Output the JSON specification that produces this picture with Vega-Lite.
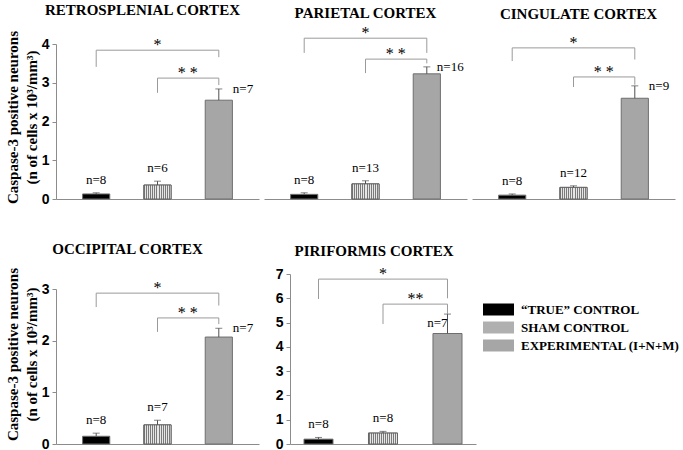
{
"$schema":"https://vega.github.io/schema/vega-lite/v6.json",
"padding":{"left":5,"top":3,"right":5,"bottom":5},
"datasets":{
"bars":[
{"cortex":"RETROSPLENIAL CORTEX","group":"“TRUE” CONTROL","mean":0.13,"upper":0.16,"n":"n=8"},
{"cortex":"RETROSPLENIAL CORTEX","group":"SHAM CONTROL","mean":0.36,"upper":0.46,"n":"n=6"},
{"cortex":"RETROSPLENIAL CORTEX","group":"EXPERIMENTAL (I+N+M)","mean":2.55,"upper":2.84,"n":"n=7"},
{"cortex":"PARIETAL CORTEX","group":"“TRUE” CONTROL","mean":0.12,"upper":0.16,"n":"n=8"},
{"cortex":"PARIETAL CORTEX","group":"SHAM CONTROL","mean":0.39,"upper":0.47,"n":"n=13"},
{"cortex":"PARIETAL CORTEX","group":"EXPERIMENTAL (I+N+M)","mean":3.23,"upper":3.41,"n":"n=16"},
{"cortex":"CINGULATE CORTEX","group":"“TRUE” CONTROL","mean":0.1,"upper":0.13,"n":"n=8"},
{"cortex":"CINGULATE CORTEX","group":"SHAM CONTROL","mean":0.3,"upper":0.34,"n":"n=12"},
{"cortex":"CINGULATE CORTEX","group":"EXPERIMENTAL (I+N+M)","mean":2.6,"upper":2.92,"n":"n=9"},
{"cortex":"OCCIPITAL CORTEX","group":"“TRUE” CONTROL","mean":0.15,"upper":0.21,"n":"n=8"},
{"cortex":"OCCIPITAL CORTEX","group":"SHAM CONTROL","mean":0.37,"upper":0.46,"n":"n=7"},
{"cortex":"OCCIPITAL CORTEX","group":"EXPERIMENTAL (I+N+M)","mean":2.07,"upper":2.24,"n":"n=7"},
{"cortex":"PIRIFORMIS CORTEX","group":"“TRUE” CONTROL","mean":0.2,"upper":0.27,"n":"n=8"},
{"cortex":"PIRIFORMIS CORTEX","group":"SHAM CONTROL","mean":0.45,"upper":0.52,"n":"n=8"},
{"cortex":"PIRIFORMIS CORTEX","group":"EXPERIMENTAL (I+N+M)","mean":4.55,"upper":5.35,"n":"n=7"}
],
"brackets":[
{"cortex":"RETROSPLENIAL CORTEX","from":"“TRUE” CONTROL","to":"EXPERIMENTAL (I+N+M)","y":3.84,"fromLow":3.41,"toLow":3.66,"stars":"*"},
{"cortex":"RETROSPLENIAL CORTEX","from":"SHAM CONTROL","to":"EXPERIMENTAL (I+N+M)","y":3.12,"fromLow":2.74,"toLow":2.94,"stars":"* *"},
{"cortex":"PARIETAL CORTEX","from":"“TRUE” CONTROL","to":"EXPERIMENTAL (I+N+M)","y":4.15,"fromLow":3.77,"toLow":3.77,"stars":"*"},
{"cortex":"PARIETAL CORTEX","from":"SHAM CONTROL","to":"EXPERIMENTAL (I+N+M)","y":3.61,"fromLow":3.25,"toLow":3.5,"stars":"* *"},
{"cortex":"CINGULATE CORTEX","from":"“TRUE” CONTROL","to":"EXPERIMENTAL (I+N+M)","y":3.9,"fromLow":3.56,"toLow":3.6,"stars":"*"},
{"cortex":"CINGULATE CORTEX","from":"SHAM CONTROL","to":"EXPERIMENTAL (I+N+M)","y":3.15,"fromLow":2.89,"toLow":2.95,"stars":"* *"},
{"cortex":"OCCIPITAL CORTEX","from":"“TRUE” CONTROL","to":"EXPERIMENTAL (I+N+M)","y":2.92,"fromLow":2.65,"toLow":2.68,"stars":"*"},
{"cortex":"OCCIPITAL CORTEX","from":"SHAM CONTROL","to":"EXPERIMENTAL (I+N+M)","y":2.44,"fromLow":2.17,"toLow":2.32,"stars":"* *"},
{"cortex":"PIRIFORMIS CORTEX","from":"“TRUE” CONTROL","to":"EXPERIMENTAL (I+N+M)","y":6.79,"fromLow":5.97,"toLow":6.0,"stars":"*"},
{"cortex":"PIRIFORMIS CORTEX","from":"SHAM CONTROL","to":"EXPERIMENTAL (I+N+M)","y":5.76,"fromLow":4.94,"toLow":5.35,"stars":"**"}
]
},
"vconcat":[
{"hconcat":[
{
"title":{"text":"RETROSPLENIAL CORTEX","offset":12,"frame":"group","dx":-15},
"width":203,"height":155,
"layer":[
{"data":{"name":"bars"},"transform":[{"filter":"datum.cortex==='RETROSPLENIAL CORTEX'"}],
"encoding":{
"x":{"field":"group","type":"nominal","title":null,"scale":{"domain":["“TRUE” CONTROL","SHAM CONTROL","EXPERIMENTAL (I+N+M)"],"paddingInner":0.557,"paddingOuter":0.434},"axis":{"labels":false,"ticks":false}},
"y":{"field":"mean","type":"quantitative","title":["Caspase-3 positive neurons","(n of cells x 10³/mm³)"],"scale":{"domain":[0,4],"nice":false},"axis":{"values":[0,1,2,3,4],"format":"d","titleY":73}}},
"layer":[
{"mark":{"type":"bar","stroke":"#6e6e6e","strokeWidth":1},"encoding":{"color":{"field":"group","type":"nominal","scale":{"domain":["“TRUE” CONTROL","SHAM CONTROL","EXPERIMENTAL (I+N+M)"],"range":["#000000","#b0b0b0","#a6a6a6"]}}}},
{"transform":[{"filter":"datum.group==='SHAM CONTROL'"}],"mark":{"type":"bar","stroke":"#666666","strokeWidth":1,"fill":{"gradient":"linear","x1":0,"y1":0,"x2":1,"y2":0,"stops":[{"offset":0,"color":"#7a7a7a"},{"offset":0.0357,"color":"#7a7a7a"},{"offset":0.0357,"color":"#e6e6e6"},{"offset":0.0714,"color":"#e6e6e6"},{"offset":0.0714,"color":"#7a7a7a"},{"offset":0.1071,"color":"#7a7a7a"},{"offset":0.1071,"color":"#e6e6e6"},{"offset":0.1429,"color":"#e6e6e6"},{"offset":0.1429,"color":"#7a7a7a"},{"offset":0.1786,"color":"#7a7a7a"},{"offset":0.1786,"color":"#e6e6e6"},{"offset":0.2143,"color":"#e6e6e6"},{"offset":0.2143,"color":"#7a7a7a"},{"offset":0.25,"color":"#7a7a7a"},{"offset":0.25,"color":"#e6e6e6"},{"offset":0.2857,"color":"#e6e6e6"},{"offset":0.2857,"color":"#7a7a7a"},{"offset":0.3214,"color":"#7a7a7a"},{"offset":0.3214,"color":"#e6e6e6"},{"offset":0.3571,"color":"#e6e6e6"},{"offset":0.3571,"color":"#7a7a7a"},{"offset":0.3929,"color":"#7a7a7a"},{"offset":0.3929,"color":"#e6e6e6"},{"offset":0.4286,"color":"#e6e6e6"},{"offset":0.4286,"color":"#7a7a7a"},{"offset":0.4643,"color":"#7a7a7a"},{"offset":0.4643,"color":"#e6e6e6"},{"offset":0.5,"color":"#e6e6e6"},{"offset":0.5,"color":"#7a7a7a"},{"offset":0.5357,"color":"#7a7a7a"},{"offset":0.5357,"color":"#e6e6e6"},{"offset":0.5714,"color":"#e6e6e6"},{"offset":0.5714,"color":"#7a7a7a"},{"offset":0.6071,"color":"#7a7a7a"},{"offset":0.6071,"color":"#e6e6e6"},{"offset":0.6429,"color":"#e6e6e6"},{"offset":0.6429,"color":"#7a7a7a"},{"offset":0.6786,"color":"#7a7a7a"},{"offset":0.6786,"color":"#e6e6e6"},{"offset":0.7143,"color":"#e6e6e6"},{"offset":0.7143,"color":"#7a7a7a"},{"offset":0.75,"color":"#7a7a7a"},{"offset":0.75,"color":"#e6e6e6"},{"offset":0.7857,"color":"#e6e6e6"},{"offset":0.7857,"color":"#7a7a7a"},{"offset":0.8214,"color":"#7a7a7a"},{"offset":0.8214,"color":"#e6e6e6"},{"offset":0.8571,"color":"#e6e6e6"},{"offset":0.8571,"color":"#7a7a7a"},{"offset":0.8929,"color":"#7a7a7a"},{"offset":0.8929,"color":"#e6e6e6"},{"offset":0.9286,"color":"#e6e6e6"},{"offset":0.9286,"color":"#7a7a7a"},{"offset":0.9643,"color":"#7a7a7a"},{"offset":0.9643,"color":"#e6e6e6"},{"offset":1,"color":"#e6e6e6"}]}}},
{"mark":{"type":"rule","color":"#505050"},"encoding":{"y2":{"field":"upper"}}},
{"mark":{"type":"tick","size":7,"thickness":1,"color":"#505050","orient":"horizontal"},"encoding":{"y":{"field":"upper","type":"quantitative","title":["Caspase-3 positive neurons","(n of cells x 10³/mm³)"],"scale":{"domain":[0,4],"nice":false},"axis":{"values":[0,1,2,3,4],"format":"d"}}}},
{"transform":[{"filter":"datum.group!=='EXPERIMENTAL (I+N+M)'"}],"mark":{"type":"text","dy":-13,"font":"Liberation Serif","fontSize":13},"encoding":{"y":{"field":"upper","type":"quantitative","title":["Caspase-3 positive neurons","(n of cells x 10³/mm³)"],"scale":{"domain":[0,4],"nice":false},"axis":{"values":[0,1,2,3,4],"format":"d"}},"text":{"field":"n"}}},
{"transform":[{"filter":"datum.group==='EXPERIMENTAL (I+N+M)'"}],"mark":{"type":"text","align":"left","dx":14,"font":"Liberation Serif","fontSize":13},"encoding":{"y":{"field":"upper","type":"quantitative","title":["Caspase-3 positive neurons","(n of cells x 10³/mm³)"],"scale":{"domain":[0,4],"nice":false},"axis":{"values":[0,1,2,3,4],"format":"d"}},"text":{"field":"n"}}}
]},
{"data":{"name":"brackets"},"transform":[{"filter":"datum.cortex==='RETROSPLENIAL CORTEX'"}],
"layer":[
{"mark":{"type":"rule","color":"#9a9a9a"},"encoding":{"x":{"field":"from","type":"nominal","title":null},"x2":{"field":"to"},"y":{"field":"y","type":"quantitative","title":["Caspase-3 positive neurons","(n of cells x 10³/mm³)"],"scale":{"domain":[0,4],"nice":false},"axis":{"values":[0,1,2,3,4],"format":"d"}}}},
{"mark":{"type":"rule","color":"#9a9a9a"},"encoding":{"x":{"field":"from","type":"nominal","title":null},"y":{"field":"fromLow","type":"quantitative","title":["Caspase-3 positive neurons","(n of cells x 10³/mm³)"],"scale":{"domain":[0,4],"nice":false},"axis":{"values":[0,1,2,3,4],"format":"d"}},"y2":{"field":"y"}}},
{"mark":{"type":"rule","color":"#9a9a9a"},"encoding":{"x":{"field":"to","type":"nominal","title":null},"y":{"field":"toLow","type":"quantitative","title":["Caspase-3 positive neurons","(n of cells x 10³/mm³)"],"scale":{"domain":[0,4],"nice":false},"axis":{"values":[0,1,2,3,4],"format":"d"}},"y2":{"field":"y"}}},
{"transform":[{"filter":"datum.stars==='*'"}],"mark":{"type":"text","font":"Liberation Serif","fontSize":16,"baseline":"alphabetic"},"encoding":{"x":{"datum":"SHAM CONTROL","type":"nominal","title":null},"y":{"field":"y","type":"quantitative","title":["Caspase-3 positive neurons","(n of cells x 10³/mm³)"],"scale":{"domain":[0,4],"nice":false},"axis":{"values":[0,1,2,3,4],"format":"d"}},"text":{"field":"stars"}}},
{"transform":[{"filter":"datum.stars!=='*'"}],"mark":{"type":"text","font":"Liberation Serif","fontSize":16,"baseline":"alphabetic","dx":-31},"encoding":{"x":{"datum":"EXPERIMENTAL (I+N+M)","type":"nominal","title":null},"y":{"field":"y","type":"quantitative","title":["Caspase-3 positive neurons","(n of cells x 10³/mm³)"],"scale":{"domain":[0,4],"nice":false},"axis":{"values":[0,1,2,3,4],"format":"d"}},"text":{"field":"stars"}}}
]}
]
},
{
"title":{"text":"PARIETAL CORTEX","offset":4,"frame":"group"},
"width":203,"height":155,
"layer":[
{"data":{"name":"bars"},"transform":[{"filter":"datum.cortex==='PARIETAL CORTEX'"}],
"encoding":{
"x":{"field":"group","type":"nominal","title":null,"scale":{"domain":["“TRUE” CONTROL","SHAM CONTROL","EXPERIMENTAL (I+N+M)"],"paddingInner":0.557,"paddingOuter":0.434},"axis":{"labels":false,"ticks":false}},
"y":{"field":"mean","type":"quantitative","scale":{"domain":[0,4],"nice":false},"axis":null}},
"layer":[
{"mark":{"type":"bar","stroke":"#6e6e6e","strokeWidth":1},"encoding":{"color":{"field":"group","type":"nominal","scale":{"domain":["“TRUE” CONTROL","SHAM CONTROL","EXPERIMENTAL (I+N+M)"],"range":["#000000","#b0b0b0","#a6a6a6"]}}}},
{"transform":[{"filter":"datum.group==='SHAM CONTROL'"}],"mark":{"type":"bar","stroke":"#666666","strokeWidth":1,"fill":{"gradient":"linear","x1":0,"y1":0,"x2":1,"y2":0,"stops":[{"offset":0,"color":"#7a7a7a"},{"offset":0.0357,"color":"#7a7a7a"},{"offset":0.0357,"color":"#e6e6e6"},{"offset":0.0714,"color":"#e6e6e6"},{"offset":0.0714,"color":"#7a7a7a"},{"offset":0.1071,"color":"#7a7a7a"},{"offset":0.1071,"color":"#e6e6e6"},{"offset":0.1429,"color":"#e6e6e6"},{"offset":0.1429,"color":"#7a7a7a"},{"offset":0.1786,"color":"#7a7a7a"},{"offset":0.1786,"color":"#e6e6e6"},{"offset":0.2143,"color":"#e6e6e6"},{"offset":0.2143,"color":"#7a7a7a"},{"offset":0.25,"color":"#7a7a7a"},{"offset":0.25,"color":"#e6e6e6"},{"offset":0.2857,"color":"#e6e6e6"},{"offset":0.2857,"color":"#7a7a7a"},{"offset":0.3214,"color":"#7a7a7a"},{"offset":0.3214,"color":"#e6e6e6"},{"offset":0.3571,"color":"#e6e6e6"},{"offset":0.3571,"color":"#7a7a7a"},{"offset":0.3929,"color":"#7a7a7a"},{"offset":0.3929,"color":"#e6e6e6"},{"offset":0.4286,"color":"#e6e6e6"},{"offset":0.4286,"color":"#7a7a7a"},{"offset":0.4643,"color":"#7a7a7a"},{"offset":0.4643,"color":"#e6e6e6"},{"offset":0.5,"color":"#e6e6e6"},{"offset":0.5,"color":"#7a7a7a"},{"offset":0.5357,"color":"#7a7a7a"},{"offset":0.5357,"color":"#e6e6e6"},{"offset":0.5714,"color":"#e6e6e6"},{"offset":0.5714,"color":"#7a7a7a"},{"offset":0.6071,"color":"#7a7a7a"},{"offset":0.6071,"color":"#e6e6e6"},{"offset":0.6429,"color":"#e6e6e6"},{"offset":0.6429,"color":"#7a7a7a"},{"offset":0.6786,"color":"#7a7a7a"},{"offset":0.6786,"color":"#e6e6e6"},{"offset":0.7143,"color":"#e6e6e6"},{"offset":0.7143,"color":"#7a7a7a"},{"offset":0.75,"color":"#7a7a7a"},{"offset":0.75,"color":"#e6e6e6"},{"offset":0.7857,"color":"#e6e6e6"},{"offset":0.7857,"color":"#7a7a7a"},{"offset":0.8214,"color":"#7a7a7a"},{"offset":0.8214,"color":"#e6e6e6"},{"offset":0.8571,"color":"#e6e6e6"},{"offset":0.8571,"color":"#7a7a7a"},{"offset":0.8929,"color":"#7a7a7a"},{"offset":0.8929,"color":"#e6e6e6"},{"offset":0.9286,"color":"#e6e6e6"},{"offset":0.9286,"color":"#7a7a7a"},{"offset":0.9643,"color":"#7a7a7a"},{"offset":0.9643,"color":"#e6e6e6"},{"offset":1,"color":"#e6e6e6"}]}}},
{"mark":{"type":"rule","color":"#505050"},"encoding":{"y2":{"field":"upper"}}},
{"mark":{"type":"tick","size":7,"thickness":1,"color":"#505050","orient":"horizontal"},"encoding":{"y":{"field":"upper","type":"quantitative","scale":{"domain":[0,4],"nice":false},"axis":null}}},
{"transform":[{"filter":"datum.group!=='EXPERIMENTAL (I+N+M)'"}],"mark":{"type":"text","dy":-13,"font":"Liberation Serif","fontSize":13},"encoding":{"y":{"field":"upper","type":"quantitative","scale":{"domain":[0,4],"nice":false},"axis":null},"text":{"field":"n"}}},
{"transform":[{"filter":"datum.group==='EXPERIMENTAL (I+N+M)'"}],"mark":{"type":"text","align":"left","dx":10,"font":"Liberation Serif","fontSize":13},"encoding":{"y":{"field":"upper","type":"quantitative","scale":{"domain":[0,4],"nice":false},"axis":null},"text":{"field":"n"}}}
]},
{"data":{"name":"brackets"},"transform":[{"filter":"datum.cortex==='PARIETAL CORTEX'"}],
"layer":[
{"mark":{"type":"rule","color":"#9a9a9a"},"encoding":{"x":{"field":"from","type":"nominal","title":null},"x2":{"field":"to"},"y":{"field":"y","type":"quantitative","scale":{"domain":[0,4],"nice":false},"axis":null}}},
{"mark":{"type":"rule","color":"#9a9a9a"},"encoding":{"x":{"field":"from","type":"nominal","title":null},"y":{"field":"fromLow","type":"quantitative","scale":{"domain":[0,4],"nice":false},"axis":null},"y2":{"field":"y"}}},
{"mark":{"type":"rule","color":"#9a9a9a"},"encoding":{"x":{"field":"to","type":"nominal","title":null},"y":{"field":"toLow","type":"quantitative","scale":{"domain":[0,4],"nice":false},"axis":null},"y2":{"field":"y"}}},
{"transform":[{"filter":"datum.stars==='*'"}],"mark":{"type":"text","font":"Liberation Serif","fontSize":16,"baseline":"alphabetic"},"encoding":{"x":{"datum":"SHAM CONTROL","type":"nominal","title":null},"y":{"field":"y","type":"quantitative","scale":{"domain":[0,4],"nice":false},"axis":null},"text":{"field":"stars"}}},
{"transform":[{"filter":"datum.stars!=='*'"}],"mark":{"type":"text","font":"Liberation Serif","fontSize":16,"baseline":"alphabetic","dx":-31},"encoding":{"x":{"datum":"EXPERIMENTAL (I+N+M)","type":"nominal","title":null},"y":{"field":"y","type":"quantitative","scale":{"domain":[0,4],"nice":false},"axis":null},"text":{"field":"stars"}}}
]}
]
},
{
"title":{"text":"CINGULATE CORTEX","offset":13,"frame":"group","dx":5},
"width":203,"height":155,
"layer":[
{"data":{"name":"bars"},"transform":[{"filter":"datum.cortex==='CINGULATE CORTEX'"}],
"encoding":{
"x":{"field":"group","type":"nominal","title":null,"scale":{"domain":["“TRUE” CONTROL","SHAM CONTROL","EXPERIMENTAL (I+N+M)"],"paddingInner":0.557,"paddingOuter":0.434},"axis":{"labels":false,"ticks":false}},
"y":{"field":"mean","type":"quantitative","scale":{"domain":[0,4],"nice":false},"axis":null}},
"layer":[
{"mark":{"type":"bar","stroke":"#6e6e6e","strokeWidth":1},"encoding":{"color":{"field":"group","type":"nominal","scale":{"domain":["“TRUE” CONTROL","SHAM CONTROL","EXPERIMENTAL (I+N+M)"],"range":["#000000","#b0b0b0","#a6a6a6"]}}}},
{"transform":[{"filter":"datum.group==='SHAM CONTROL'"}],"mark":{"type":"bar","stroke":"#666666","strokeWidth":1,"fill":{"gradient":"linear","x1":0,"y1":0,"x2":1,"y2":0,"stops":[{"offset":0,"color":"#7a7a7a"},{"offset":0.0357,"color":"#7a7a7a"},{"offset":0.0357,"color":"#e6e6e6"},{"offset":0.0714,"color":"#e6e6e6"},{"offset":0.0714,"color":"#7a7a7a"},{"offset":0.1071,"color":"#7a7a7a"},{"offset":0.1071,"color":"#e6e6e6"},{"offset":0.1429,"color":"#e6e6e6"},{"offset":0.1429,"color":"#7a7a7a"},{"offset":0.1786,"color":"#7a7a7a"},{"offset":0.1786,"color":"#e6e6e6"},{"offset":0.2143,"color":"#e6e6e6"},{"offset":0.2143,"color":"#7a7a7a"},{"offset":0.25,"color":"#7a7a7a"},{"offset":0.25,"color":"#e6e6e6"},{"offset":0.2857,"color":"#e6e6e6"},{"offset":0.2857,"color":"#7a7a7a"},{"offset":0.3214,"color":"#7a7a7a"},{"offset":0.3214,"color":"#e6e6e6"},{"offset":0.3571,"color":"#e6e6e6"},{"offset":0.3571,"color":"#7a7a7a"},{"offset":0.3929,"color":"#7a7a7a"},{"offset":0.3929,"color":"#e6e6e6"},{"offset":0.4286,"color":"#e6e6e6"},{"offset":0.4286,"color":"#7a7a7a"},{"offset":0.4643,"color":"#7a7a7a"},{"offset":0.4643,"color":"#e6e6e6"},{"offset":0.5,"color":"#e6e6e6"},{"offset":0.5,"color":"#7a7a7a"},{"offset":0.5357,"color":"#7a7a7a"},{"offset":0.5357,"color":"#e6e6e6"},{"offset":0.5714,"color":"#e6e6e6"},{"offset":0.5714,"color":"#7a7a7a"},{"offset":0.6071,"color":"#7a7a7a"},{"offset":0.6071,"color":"#e6e6e6"},{"offset":0.6429,"color":"#e6e6e6"},{"offset":0.6429,"color":"#7a7a7a"},{"offset":0.6786,"color":"#7a7a7a"},{"offset":0.6786,"color":"#e6e6e6"},{"offset":0.7143,"color":"#e6e6e6"},{"offset":0.7143,"color":"#7a7a7a"},{"offset":0.75,"color":"#7a7a7a"},{"offset":0.75,"color":"#e6e6e6"},{"offset":0.7857,"color":"#e6e6e6"},{"offset":0.7857,"color":"#7a7a7a"},{"offset":0.8214,"color":"#7a7a7a"},{"offset":0.8214,"color":"#e6e6e6"},{"offset":0.8571,"color":"#e6e6e6"},{"offset":0.8571,"color":"#7a7a7a"},{"offset":0.8929,"color":"#7a7a7a"},{"offset":0.8929,"color":"#e6e6e6"},{"offset":0.9286,"color":"#e6e6e6"},{"offset":0.9286,"color":"#7a7a7a"},{"offset":0.9643,"color":"#7a7a7a"},{"offset":0.9643,"color":"#e6e6e6"},{"offset":1,"color":"#e6e6e6"}]}}},
{"mark":{"type":"rule","color":"#505050"},"encoding":{"y2":{"field":"upper"}}},
{"mark":{"type":"tick","size":7,"thickness":1,"color":"#505050","orient":"horizontal"},"encoding":{"y":{"field":"upper","type":"quantitative","scale":{"domain":[0,4],"nice":false},"axis":null}}},
{"transform":[{"filter":"datum.group!=='EXPERIMENTAL (I+N+M)'"}],"mark":{"type":"text","dy":-13,"font":"Liberation Serif","fontSize":13},"encoding":{"y":{"field":"upper","type":"quantitative","scale":{"domain":[0,4],"nice":false},"axis":null},"text":{"field":"n"}}},
{"transform":[{"filter":"datum.group==='EXPERIMENTAL (I+N+M)'"}],"mark":{"type":"text","align":"left","dx":14,"font":"Liberation Serif","fontSize":13},"encoding":{"y":{"field":"upper","type":"quantitative","scale":{"domain":[0,4],"nice":false},"axis":null},"text":{"field":"n"}}}
]},
{"data":{"name":"brackets"},"transform":[{"filter":"datum.cortex==='CINGULATE CORTEX'"}],
"layer":[
{"mark":{"type":"rule","color":"#9a9a9a"},"encoding":{"x":{"field":"from","type":"nominal","title":null},"x2":{"field":"to"},"y":{"field":"y","type":"quantitative","scale":{"domain":[0,4],"nice":false},"axis":null}}},
{"mark":{"type":"rule","color":"#9a9a9a"},"encoding":{"x":{"field":"from","type":"nominal","title":null},"y":{"field":"fromLow","type":"quantitative","scale":{"domain":[0,4],"nice":false},"axis":null},"y2":{"field":"y"}}},
{"mark":{"type":"rule","color":"#9a9a9a"},"encoding":{"x":{"field":"to","type":"nominal","title":null},"y":{"field":"toLow","type":"quantitative","scale":{"domain":[0,4],"nice":false},"axis":null},"y2":{"field":"y"}}},
{"transform":[{"filter":"datum.stars==='*'"}],"mark":{"type":"text","font":"Liberation Serif","fontSize":16,"baseline":"alphabetic"},"encoding":{"x":{"datum":"SHAM CONTROL","type":"nominal","title":null},"y":{"field":"y","type":"quantitative","scale":{"domain":[0,4],"nice":false},"axis":null},"text":{"field":"stars"}}},
{"transform":[{"filter":"datum.stars!=='*'"}],"mark":{"type":"text","font":"Liberation Serif","fontSize":16,"baseline":"alphabetic","dx":-31},"encoding":{"x":{"datum":"EXPERIMENTAL (I+N+M)","type":"nominal","title":null},"y":{"field":"y","type":"quantitative","scale":{"domain":[0,4],"nice":false},"axis":null},"text":{"field":"stars"}}}
]}
]
}
],"spacing":5},
{"hconcat":[
{
"title":{"text":"OCCIPITAL CORTEX","offset":10,"frame":"group","dx":-30},
"width":203,"height":170,
"layer":[
{"data":{"name":"bars"},"transform":[{"filter":"datum.cortex==='OCCIPITAL CORTEX'"}],
"encoding":{
"x":{"field":"group","type":"nominal","title":null,"scale":{"domain":["“TRUE” CONTROL","SHAM CONTROL","EXPERIMENTAL (I+N+M)"],"paddingInner":0.557,"paddingOuter":0.434},"axis":{"labels":false,"ticks":false}},
"y":{"field":"mean","type":"quantitative","title":["Caspase-3 positive neurons","(n of cells x 10³/mm³)"],"scale":{"domain":[0,3],"nice":false,"range":[170,15]},"axis":{"values":[0,1,2,3],"format":"d","titleY":80}}},
"layer":[
{"mark":{"type":"bar","stroke":"#6e6e6e","strokeWidth":1},"encoding":{"color":{"field":"group","type":"nominal","scale":{"domain":["“TRUE” CONTROL","SHAM CONTROL","EXPERIMENTAL (I+N+M)"],"range":["#000000","#b0b0b0","#a6a6a6"]}}}},
{"transform":[{"filter":"datum.group==='SHAM CONTROL'"}],"mark":{"type":"bar","stroke":"#666666","strokeWidth":1,"fill":{"gradient":"linear","x1":0,"y1":0,"x2":1,"y2":0,"stops":[{"offset":0,"color":"#7a7a7a"},{"offset":0.0357,"color":"#7a7a7a"},{"offset":0.0357,"color":"#e6e6e6"},{"offset":0.0714,"color":"#e6e6e6"},{"offset":0.0714,"color":"#7a7a7a"},{"offset":0.1071,"color":"#7a7a7a"},{"offset":0.1071,"color":"#e6e6e6"},{"offset":0.1429,"color":"#e6e6e6"},{"offset":0.1429,"color":"#7a7a7a"},{"offset":0.1786,"color":"#7a7a7a"},{"offset":0.1786,"color":"#e6e6e6"},{"offset":0.2143,"color":"#e6e6e6"},{"offset":0.2143,"color":"#7a7a7a"},{"offset":0.25,"color":"#7a7a7a"},{"offset":0.25,"color":"#e6e6e6"},{"offset":0.2857,"color":"#e6e6e6"},{"offset":0.2857,"color":"#7a7a7a"},{"offset":0.3214,"color":"#7a7a7a"},{"offset":0.3214,"color":"#e6e6e6"},{"offset":0.3571,"color":"#e6e6e6"},{"offset":0.3571,"color":"#7a7a7a"},{"offset":0.3929,"color":"#7a7a7a"},{"offset":0.3929,"color":"#e6e6e6"},{"offset":0.4286,"color":"#e6e6e6"},{"offset":0.4286,"color":"#7a7a7a"},{"offset":0.4643,"color":"#7a7a7a"},{"offset":0.4643,"color":"#e6e6e6"},{"offset":0.5,"color":"#e6e6e6"},{"offset":0.5,"color":"#7a7a7a"},{"offset":0.5357,"color":"#7a7a7a"},{"offset":0.5357,"color":"#e6e6e6"},{"offset":0.5714,"color":"#e6e6e6"},{"offset":0.5714,"color":"#7a7a7a"},{"offset":0.6071,"color":"#7a7a7a"},{"offset":0.6071,"color":"#e6e6e6"},{"offset":0.6429,"color":"#e6e6e6"},{"offset":0.6429,"color":"#7a7a7a"},{"offset":0.6786,"color":"#7a7a7a"},{"offset":0.6786,"color":"#e6e6e6"},{"offset":0.7143,"color":"#e6e6e6"},{"offset":0.7143,"color":"#7a7a7a"},{"offset":0.75,"color":"#7a7a7a"},{"offset":0.75,"color":"#e6e6e6"},{"offset":0.7857,"color":"#e6e6e6"},{"offset":0.7857,"color":"#7a7a7a"},{"offset":0.8214,"color":"#7a7a7a"},{"offset":0.8214,"color":"#e6e6e6"},{"offset":0.8571,"color":"#e6e6e6"},{"offset":0.8571,"color":"#7a7a7a"},{"offset":0.8929,"color":"#7a7a7a"},{"offset":0.8929,"color":"#e6e6e6"},{"offset":0.9286,"color":"#e6e6e6"},{"offset":0.9286,"color":"#7a7a7a"},{"offset":0.9643,"color":"#7a7a7a"},{"offset":0.9643,"color":"#e6e6e6"},{"offset":1,"color":"#e6e6e6"}]}}},
{"mark":{"type":"rule","color":"#505050"},"encoding":{"y2":{"field":"upper"}}},
{"mark":{"type":"tick","size":7,"thickness":1,"color":"#505050","orient":"horizontal"},"encoding":{"y":{"field":"upper","type":"quantitative","title":["Caspase-3 positive neurons","(n of cells x 10³/mm³)"],"scale":{"domain":[0,3],"nice":false,"range":[170,15]},"axis":{"values":[0,1,2,3],"format":"d"}}}},
{"transform":[{"filter":"datum.group!=='EXPERIMENTAL (I+N+M)'"}],"mark":{"type":"text","dy":-13,"font":"Liberation Serif","fontSize":13},"encoding":{"y":{"field":"upper","type":"quantitative","title":["Caspase-3 positive neurons","(n of cells x 10³/mm³)"],"scale":{"domain":[0,3],"nice":false,"range":[170,15]},"axis":{"values":[0,1,2,3],"format":"d"}},"text":{"field":"n"}}},
{"transform":[{"filter":"datum.group==='EXPERIMENTAL (I+N+M)'"}],"mark":{"type":"text","align":"left","dx":14,"font":"Liberation Serif","fontSize":13},"encoding":{"y":{"field":"upper","type":"quantitative","title":["Caspase-3 positive neurons","(n of cells x 10³/mm³)"],"scale":{"domain":[0,3],"nice":false,"range":[170,15]},"axis":{"values":[0,1,2,3],"format":"d"}},"text":{"field":"n"}}}
]},
{"data":{"name":"brackets"},"transform":[{"filter":"datum.cortex==='OCCIPITAL CORTEX'"}],
"layer":[
{"mark":{"type":"rule","color":"#9a9a9a"},"encoding":{"x":{"field":"from","type":"nominal","title":null},"x2":{"field":"to"},"y":{"field":"y","type":"quantitative","title":["Caspase-3 positive neurons","(n of cells x 10³/mm³)"],"scale":{"domain":[0,3],"nice":false,"range":[170,15]},"axis":{"values":[0,1,2,3],"format":"d"}}}},
{"mark":{"type":"rule","color":"#9a9a9a"},"encoding":{"x":{"field":"from","type":"nominal","title":null},"y":{"field":"fromLow","type":"quantitative","title":["Caspase-3 positive neurons","(n of cells x 10³/mm³)"],"scale":{"domain":[0,3],"nice":false,"range":[170,15]},"axis":{"values":[0,1,2,3],"format":"d"}},"y2":{"field":"y"}}},
{"mark":{"type":"rule","color":"#9a9a9a"},"encoding":{"x":{"field":"to","type":"nominal","title":null},"y":{"field":"toLow","type":"quantitative","title":["Caspase-3 positive neurons","(n of cells x 10³/mm³)"],"scale":{"domain":[0,3],"nice":false,"range":[170,15]},"axis":{"values":[0,1,2,3],"format":"d"}},"y2":{"field":"y"}}},
{"transform":[{"filter":"datum.stars==='*'"}],"mark":{"type":"text","font":"Liberation Serif","fontSize":16,"baseline":"alphabetic"},"encoding":{"x":{"datum":"SHAM CONTROL","type":"nominal","title":null},"y":{"field":"y","type":"quantitative","title":["Caspase-3 positive neurons","(n of cells x 10³/mm³)"],"scale":{"domain":[0,3],"nice":false,"range":[170,15]},"axis":{"values":[0,1,2,3],"format":"d"}},"text":{"field":"stars"}}},
{"transform":[{"filter":"datum.stars!=='*'"}],"mark":{"type":"text","font":"Liberation Serif","fontSize":16,"baseline":"alphabetic","dx":-31},"encoding":{"x":{"datum":"EXPERIMENTAL (I+N+M)","type":"nominal","title":null},"y":{"field":"y","type":"quantitative","title":["Caspase-3 positive neurons","(n of cells x 10³/mm³)"],"scale":{"domain":[0,3],"nice":false,"range":[170,15]},"axis":{"values":[0,1,2,3],"format":"d"}},"text":{"field":"stars"}}}
]}
]
},
{
"title":{"text":"PIRIFORMIS CORTEX","offset":7,"frame":"group","dx":-9},
"width":186,"height":170,
"layer":[
{"data":{"name":"bars"},"transform":[{"filter":"datum.cortex==='PIRIFORMIS CORTEX'"}],
"encoding":{
"x":{"field":"group","type":"nominal","title":null,"scale":{"domain":["“TRUE” CONTROL","SHAM CONTROL","EXPERIMENTAL (I+N+M)"],"paddingInner":0.55,"paddingOuter":0.217},"axis":{"labels":false,"ticks":false}},
"y":{"field":"mean","type":"quantitative","title":null,"scale":{"domain":[0,7],"nice":false},"axis":{"values":[0,1,2,3,4,5,6,7],"format":"d"}}},
"layer":[
{"mark":{"type":"bar","stroke":"#6e6e6e","strokeWidth":1},"encoding":{"color":{"field":"group","type":"nominal","scale":{"domain":["“TRUE” CONTROL","SHAM CONTROL","EXPERIMENTAL (I+N+M)"],"range":["#000000","#b0b0b0","#a6a6a6"]},
"legend":{"title":null,"orient":"none","legendX":436,"legendY":259,"symbolType":"M-3.1,-1.2H3.1V1.2H-3.1Z","symbolSize":100,"symbolStrokeColor":"#777777","symbolStrokeWidth":1,"symbolOpacity":1,"labelFont":"Liberation Serif","labelFontWeight":"bold","labelFontSize":13,"labelColor":"#000000","labelOffset":16,"rowPadding":1,"labelLimit":300,
"encode":{"symbols":{"update":{"fill":[{"test":"datum.value==='SHAM CONTROL'","value":{"gradient":"linear","x1":0,"y1":0,"x2":1,"y2":0,"stops":[{"offset":0,"color":"#7a7a7a"},{"offset":0.0357,"color":"#7a7a7a"},{"offset":0.0357,"color":"#e6e6e6"},{"offset":0.0714,"color":"#e6e6e6"},{"offset":0.0714,"color":"#7a7a7a"},{"offset":0.1071,"color":"#7a7a7a"},{"offset":0.1071,"color":"#e6e6e6"},{"offset":0.1429,"color":"#e6e6e6"},{"offset":0.1429,"color":"#7a7a7a"},{"offset":0.1786,"color":"#7a7a7a"},{"offset":0.1786,"color":"#e6e6e6"},{"offset":0.2143,"color":"#e6e6e6"},{"offset":0.2143,"color":"#7a7a7a"},{"offset":0.25,"color":"#7a7a7a"},{"offset":0.25,"color":"#e6e6e6"},{"offset":0.2857,"color":"#e6e6e6"},{"offset":0.2857,"color":"#7a7a7a"},{"offset":0.3214,"color":"#7a7a7a"},{"offset":0.3214,"color":"#e6e6e6"},{"offset":0.3571,"color":"#e6e6e6"},{"offset":0.3571,"color":"#7a7a7a"},{"offset":0.3929,"color":"#7a7a7a"},{"offset":0.3929,"color":"#e6e6e6"},{"offset":0.4286,"color":"#e6e6e6"},{"offset":0.4286,"color":"#7a7a7a"},{"offset":0.4643,"color":"#7a7a7a"},{"offset":0.4643,"color":"#e6e6e6"},{"offset":0.5,"color":"#e6e6e6"},{"offset":0.5,"color":"#7a7a7a"},{"offset":0.5357,"color":"#7a7a7a"},{"offset":0.5357,"color":"#e6e6e6"},{"offset":0.5714,"color":"#e6e6e6"},{"offset":0.5714,"color":"#7a7a7a"},{"offset":0.6071,"color":"#7a7a7a"},{"offset":0.6071,"color":"#e6e6e6"},{"offset":0.6429,"color":"#e6e6e6"},{"offset":0.6429,"color":"#7a7a7a"},{"offset":0.6786,"color":"#7a7a7a"},{"offset":0.6786,"color":"#e6e6e6"},{"offset":0.7143,"color":"#e6e6e6"},{"offset":0.7143,"color":"#7a7a7a"},{"offset":0.75,"color":"#7a7a7a"},{"offset":0.75,"color":"#e6e6e6"},{"offset":0.7857,"color":"#e6e6e6"},{"offset":0.7857,"color":"#7a7a7a"},{"offset":0.8214,"color":"#7a7a7a"},{"offset":0.8214,"color":"#e6e6e6"},{"offset":0.8571,"color":"#e6e6e6"},{"offset":0.8571,"color":"#7a7a7a"},{"offset":0.8929,"color":"#7a7a7a"},{"offset":0.8929,"color":"#e6e6e6"},{"offset":0.9286,"color":"#e6e6e6"},{"offset":0.9286,"color":"#7a7a7a"},{"offset":0.9643,"color":"#7a7a7a"},{"offset":0.9643,"color":"#e6e6e6"},{"offset":1,"color":"#e6e6e6"}]}},{"test":"datum.value==='EXPERIMENTAL (I+N+M)'","value":"#d4d4d4"},{"value":"#000000"}]}}}}}}},
{"transform":[{"filter":"datum.group==='SHAM CONTROL'"}],"mark":{"type":"bar","stroke":"#666666","strokeWidth":1,"fill":{"gradient":"linear","x1":0,"y1":0,"x2":1,"y2":0,"stops":[{"offset":0,"color":"#7a7a7a"},{"offset":0.0357,"color":"#7a7a7a"},{"offset":0.0357,"color":"#e6e6e6"},{"offset":0.0714,"color":"#e6e6e6"},{"offset":0.0714,"color":"#7a7a7a"},{"offset":0.1071,"color":"#7a7a7a"},{"offset":0.1071,"color":"#e6e6e6"},{"offset":0.1429,"color":"#e6e6e6"},{"offset":0.1429,"color":"#7a7a7a"},{"offset":0.1786,"color":"#7a7a7a"},{"offset":0.1786,"color":"#e6e6e6"},{"offset":0.2143,"color":"#e6e6e6"},{"offset":0.2143,"color":"#7a7a7a"},{"offset":0.25,"color":"#7a7a7a"},{"offset":0.25,"color":"#e6e6e6"},{"offset":0.2857,"color":"#e6e6e6"},{"offset":0.2857,"color":"#7a7a7a"},{"offset":0.3214,"color":"#7a7a7a"},{"offset":0.3214,"color":"#e6e6e6"},{"offset":0.3571,"color":"#e6e6e6"},{"offset":0.3571,"color":"#7a7a7a"},{"offset":0.3929,"color":"#7a7a7a"},{"offset":0.3929,"color":"#e6e6e6"},{"offset":0.4286,"color":"#e6e6e6"},{"offset":0.4286,"color":"#7a7a7a"},{"offset":0.4643,"color":"#7a7a7a"},{"offset":0.4643,"color":"#e6e6e6"},{"offset":0.5,"color":"#e6e6e6"},{"offset":0.5,"color":"#7a7a7a"},{"offset":0.5357,"color":"#7a7a7a"},{"offset":0.5357,"color":"#e6e6e6"},{"offset":0.5714,"color":"#e6e6e6"},{"offset":0.5714,"color":"#7a7a7a"},{"offset":0.6071,"color":"#7a7a7a"},{"offset":0.6071,"color":"#e6e6e6"},{"offset":0.6429,"color":"#e6e6e6"},{"offset":0.6429,"color":"#7a7a7a"},{"offset":0.6786,"color":"#7a7a7a"},{"offset":0.6786,"color":"#e6e6e6"},{"offset":0.7143,"color":"#e6e6e6"},{"offset":0.7143,"color":"#7a7a7a"},{"offset":0.75,"color":"#7a7a7a"},{"offset":0.75,"color":"#e6e6e6"},{"offset":0.7857,"color":"#e6e6e6"},{"offset":0.7857,"color":"#7a7a7a"},{"offset":0.8214,"color":"#7a7a7a"},{"offset":0.8214,"color":"#e6e6e6"},{"offset":0.8571,"color":"#e6e6e6"},{"offset":0.8571,"color":"#7a7a7a"},{"offset":0.8929,"color":"#7a7a7a"},{"offset":0.8929,"color":"#e6e6e6"},{"offset":0.9286,"color":"#e6e6e6"},{"offset":0.9286,"color":"#7a7a7a"},{"offset":0.9643,"color":"#7a7a7a"},{"offset":0.9643,"color":"#e6e6e6"},{"offset":1,"color":"#e6e6e6"}]}}},
{"mark":{"type":"rule","color":"#505050"},"encoding":{"y2":{"field":"upper"}}},
{"mark":{"type":"tick","size":7,"thickness":1,"color":"#505050","orient":"horizontal"},"encoding":{"y":{"field":"upper","type":"quantitative","title":null,"scale":{"domain":[0,7],"nice":false},"axis":{"values":[0,1,2,3,4,5,6,7],"format":"d"}}}},
{"transform":[{"filter":"datum.group!=='EXPERIMENTAL (I+N+M)'"}],"mark":{"type":"text","dy":-13,"font":"Liberation Serif","fontSize":13},"encoding":{"y":{"field":"upper","type":"quantitative","title":null,"scale":{"domain":[0,7],"nice":false},"axis":{"values":[0,1,2,3,4,5,6,7],"format":"d"}},"text":{"field":"n"}}},
{"transform":[{"filter":"datum.group==='EXPERIMENTAL (I+N+M)'"}],"mark":{"type":"text","align":"right","dy":9,"font":"Liberation Serif","fontSize":13},"encoding":{"y":{"field":"upper","type":"quantitative","title":null,"scale":{"domain":[0,7],"nice":false},"axis":{"values":[0,1,2,3,4,5,6,7],"format":"d"}},"text":{"field":"n"}}}
]},
{"data":{"name":"brackets"},"transform":[{"filter":"datum.cortex==='PIRIFORMIS CORTEX'"}],
"layer":[
{"mark":{"type":"rule","color":"#9a9a9a"},"encoding":{"x":{"field":"from","type":"nominal","title":null},"x2":{"field":"to"},"y":{"field":"y","type":"quantitative","title":null,"scale":{"domain":[0,7],"nice":false},"axis":{"values":[0,1,2,3,4,5,6,7],"format":"d"}}}},
{"mark":{"type":"rule","color":"#9a9a9a"},"encoding":{"x":{"field":"from","type":"nominal","title":null},"y":{"field":"fromLow","type":"quantitative","title":null,"scale":{"domain":[0,7],"nice":false},"axis":{"values":[0,1,2,3,4,5,6,7],"format":"d"}},"y2":{"field":"y"}}},
{"mark":{"type":"rule","color":"#9a9a9a"},"encoding":{"x":{"field":"to","type":"nominal","title":null},"y":{"field":"toLow","type":"quantitative","title":null,"scale":{"domain":[0,7],"nice":false},"axis":{"values":[0,1,2,3,4,5,6,7],"format":"d"}},"y2":{"field":"y"}}},
{"transform":[{"filter":"datum.stars==='*'"}],"mark":{"type":"text","font":"Liberation Serif","fontSize":16,"baseline":"alphabetic"},"encoding":{"x":{"datum":"SHAM CONTROL","type":"nominal","title":null},"y":{"field":"y","type":"quantitative","title":null,"scale":{"domain":[0,7],"nice":false},"axis":{"values":[0,1,2,3,4,5,6,7],"format":"d"}},"text":{"field":"stars"}}},
{"transform":[{"filter":"datum.stars!=='*'"}],"mark":{"type":"text","font":"Liberation Serif","fontSize":16,"baseline":"alphabetic","dx":-32},"encoding":{"x":{"datum":"EXPERIMENTAL (I+N+M)","type":"nominal","title":null},"y":{"field":"y","type":"quantitative","title":null,"scale":{"domain":[0,7],"nice":false},"axis":{"values":[0,1,2,3,4,5,6,7],"format":"d"}},"text":{"field":"stars"}}}
]}
]
}
],"spacing":16}
],
"spacing":36,
"config":{
"view":{"stroke":null},
"font":"Liberation Serif",
"title":{"font":"Liberation Serif","fontSize":15,"fontWeight":"bold","color":"#000000","anchor":"middle"},
"axis":{"grid":false,"domainColor":"#8c8c8c","tickColor":"#8c8c8c","tickSize":4,"labelFont":"Liberation Sans","labelFontWeight":"bold","labelFontSize":14,"labelColor":"#000000","labelPadding":3,"titleFont":"Liberation Serif","titleFontWeight":"bold","titleFontSize":15,"titleColor":"#000000","titleLineHeight":19,"titlePadding":2}
}
}
